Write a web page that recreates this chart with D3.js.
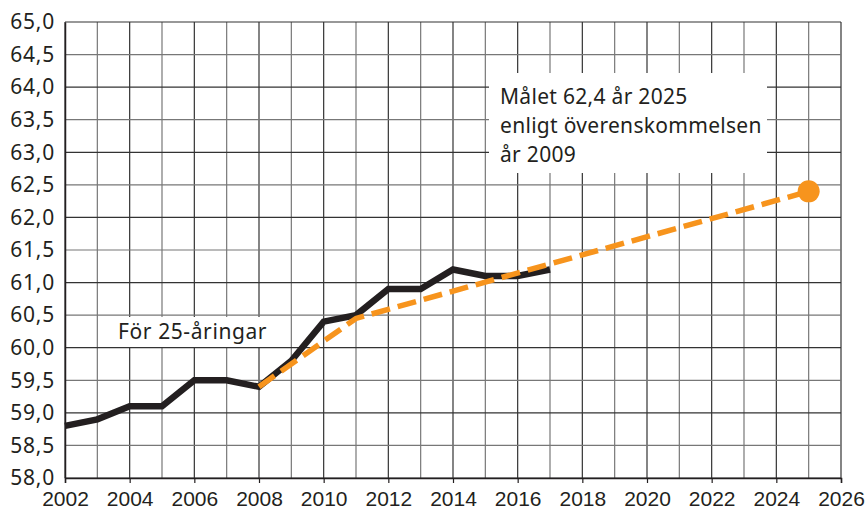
<!DOCTYPE html>
<html>
<head>
<meta charset="utf-8">
<script src="https://cdn.jsdelivr.net/npm/d3@7"></script>
<style>
  body { margin: 0; background: #fff; }
  svg { display: block; }
</style>
</head>
<body>
<div id="chart"></div>
<script>
// data

const years = [2002, 2003, 2004, 2005, 2006, 2007, 2008, 2009, 2010, 2011, 2012, 2013, 2014, 2015, 2016, 2017];
const actual = [58.8, 58.9, 59.1, 59.1, 59.5, 59.5, 59.4, 59.8, 60.4, 60.5, 60.9, 60.9, 61.2, 61.1, 61.1, 61.2];

const targetYears = [2008, 2011, 2025];
const target = [59.4, 60.45, 62.4];

const yTicks = [58.0, 58.5, 59.0, 59.5, 60.0, 60.5, 61.0, 61.5, 62.0, 62.5, 63.0, 63.5, 64.0, 64.5, 65.0];
const xTicks = [2002, 2004, 2006, 2008, 2010, 2012, 2014, 2016, 2018, 2020, 2022, 2024, 2026];

const labelLeft = "För 25-åringar";
const labelGoal = ["Målet 62,4 år 2025", "enligt överenskommelsen", "år 2009"];

//layout

const dims = {width: 867, height: 511};
const margin = {left: 65, right: 26, top: 22, bottom: 33};

const svg = d3.select("#chart")
              .append("svg")
              .attr("width", dims.width)
              .attr("height", dims.height);

const x = d3.scaleLinear()
            .domain([2002, 2026])
            .range([margin.left, dims.width - margin.right]);

const y = d3.scaleLinear()
            .domain([58, 65])
            .range([dims.height - margin.bottom, margin.top]);

const ink = "#231f20";

//grid

const grid = svg.append("g").attr("class", "grid");

grid.selectAll("line.v")
    .data(d3.range(2002, 2027))
    .enter()
    .append("line")
    .attr("class", "v")
    .attr("x1", d => x(d)).attr("x2", d => x(d))
    .attr("y1", y(58)).attr("y2", y(65))
    .attr("stroke", (d, i) => i % 2 ? "#777" : "#333")
    .attr("stroke-width", 1.2);

grid.selectAll("line.h")
    .data(yTicks)
    .enter()
    .append("line")
    .attr("class", "h")
    .attr("x1", x(2002)).attr("x2", x(2026))
    .attr("y1", d => y(d)).attr("y2", d => y(d))
    .attr("stroke", (d, i) => i % 2 ? "#777" : "#333")
    .attr("stroke-width", 1.2);

//axes

const xAxis = d3.axisBottom(x)
                .tickValues(xTicks)
                .tickFormat(d3.format("d"))
                .tickSize(5)
                .tickPadding(8);

const gx = svg.append("g")
              .attr("transform", `translate(0, ${y(58)})`)
              .call(xAxis);
gx.select(".domain").attr("stroke", ink).attr("stroke-width", 1.5);
gx.selectAll(".tick line").attr("stroke", ink).attr("stroke-width", 1.2);
gx.selectAll("text")
  .attr("fill", ink)
  .style("font-family", "'Liberation Sans', Arial, sans-serif")
  .style("font-size", "21px");

const yAxis = d3.axisLeft(y)
                .tickValues(yTicks)
                .tickFormat(d => d3.format(".1f")(d).replace(".", ","))
                .tickSize(0)
                .tickPadding(10);

const gy = svg.append("g")
              .attr("transform", `translate(${x(2002)}, 0)`)
              .call(yAxis);
gy.select(".domain").attr("stroke", ink).attr("stroke-width", 1.5);
gy.selectAll("text")
  .attr("fill", ink)
  .style("font-family", "'Noto Sans', sans-serif")
  .style("font-size", "21px")
  .style("letter-spacing", "0.8px");

//label boxes (cover the grid)

svg.append("rect")
   .attr("x", 110).attr("y", 317)
   .attr("width", 162).attr("height", 30)
   .attr("fill", "#fff");

svg.append("text")
   .attr("x", 118).attr("y", 339)
   .attr("fill", ink)
   .style("font-family", "'Noto Sans', sans-serif")
   .style("font-size", "21px")
   .style("letter-spacing", "0.6px")
   .text(labelLeft);

svg.append("rect")
   .attr("x", 489).attr("y", 73)
   .attr("width", 278).attr("height", 100)
   .attr("fill", "#fff");

svg.append("g")
   .selectAll("text")
   .data(labelGoal)
   .enter()
   .append("text")
   .attr("x", 500)
   .attr("y", (d, i) => 104 + i * 29)
   .attr("fill", ink)
   .style("font-family", "'Noto Sans', sans-serif")
   .style("font-size", "21px")
   .style("letter-spacing", "0.3px")
   .text(d => d);

//lines

const line = d3.line()
               .x(d => x(d[0]))
               .y(d => y(d[1]));

svg.append("path")
   .datum(years.map((d, i) => [d, actual[i]]))
   .attr("d", line)
   .attr("fill", "none")
   .attr("stroke", ink)
   .attr("stroke-width", 6.5)
   .attr("stroke-linejoin", "miter");

svg.append("path")
   .datum(targetYears.map((d, i) => [d, target[i]]))
   .attr("d", line)
   .attr("fill", "none")
   .attr("stroke", "#f7941d")
   .attr("stroke-width", 5.5)
   .attr("stroke-dasharray", "19 8");

svg.append("circle")
   .attr("cx", x(targetYears[2]))
   .attr("cy", y(target[2]))
   .attr("r", 11)
   .attr("fill", "#f7941d");
</script>
</body>
</html>
